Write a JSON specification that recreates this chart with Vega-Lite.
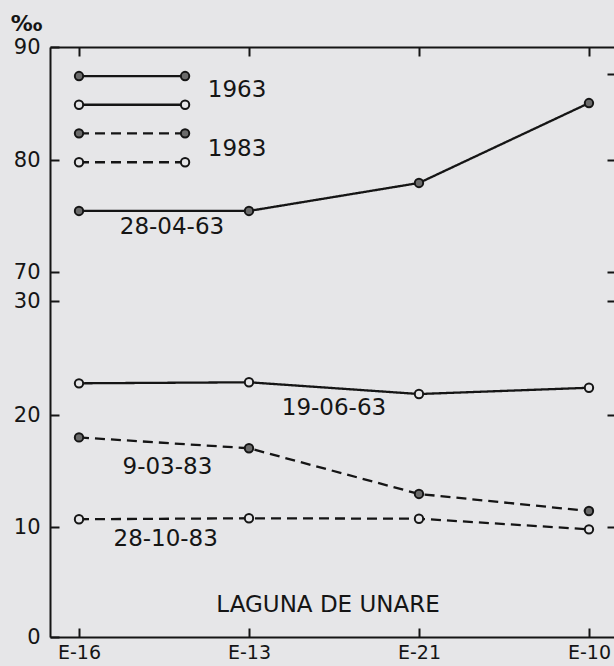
{
  "$schema": "https://vega.github.io/schema/vega-lite/v6.json",
  "width": 566,
  "height": 590,
  "autosize": {"type": "none"},
  "padding": {"left": 50, "top": 47, "right": 0, "bottom": 29},
  "background": "#e6e6e8",
  "config": {
    "view": {"stroke": null},
    "font": "DejaVu Sans",
    "axis": {
      "grid": false,
      "domainColor": "#151515",
      "domainWidth": 2,
      "tickColor": "#151515",
      "tickWidth": 2,
      "labelColor": "#151515",
      "labelFont": "DejaVu Sans",
      "labelFontSize": 21,
      "titleColor": "#151515"
    }
  },
  "datasets": {
    "series": [
      {"series": "28-04-63", "year": "1963", "marker": "filled", "station": "E-16", "pos": 0, "value": 75.45},
      {"series": "28-04-63", "year": "1963", "marker": "filled", "station": "E-13", "pos": 1, "value": 75.45},
      {"series": "28-04-63", "year": "1963", "marker": "filled", "station": "E-21", "pos": 2, "value": 77.95},
      {"series": "28-04-63", "year": "1963", "marker": "filled", "station": "E-10", "pos": 3, "value": 85.04},
      {"series": "19-06-63", "year": "1963", "marker": "open", "station": "E-16", "pos": 0, "value": 22.78},
      {"series": "19-06-63", "year": "1963", "marker": "open", "station": "E-13", "pos": 1, "value": 22.87},
      {"series": "19-06-63", "year": "1963", "marker": "open", "station": "E-21", "pos": 2, "value": 21.84},
      {"series": "19-06-63", "year": "1963", "marker": "open", "station": "E-10", "pos": 3, "value": 22.39},
      {"series": "9-03-83", "year": "1983", "marker": "filled", "station": "E-16", "pos": 0, "value": 18.0},
      {"series": "9-03-83", "year": "1983", "marker": "filled", "station": "E-13", "pos": 1, "value": 17.03},
      {"series": "9-03-83", "year": "1983", "marker": "filled", "station": "E-21", "pos": 2, "value": 12.95},
      {"series": "9-03-83", "year": "1983", "marker": "filled", "station": "E-10", "pos": 3, "value": 11.43},
      {"series": "28-10-83", "year": "1983", "marker": "open", "station": "E-16", "pos": 0, "value": 10.69},
      {"series": "28-10-83", "year": "1983", "marker": "open", "station": "E-13", "pos": 1, "value": 10.78},
      {"series": "28-10-83", "year": "1983", "marker": "open", "station": "E-21", "pos": 2, "value": 10.74},
      {"series": "28-10-83", "year": "1983", "marker": "open", "station": "E-10", "pos": 3, "value": 9.79}
    ],
    "key": [
      {"series": "key1", "year": "1963", "marker": "filled", "pos": 0, "value": 87.43},
      {"series": "key1", "year": "1963", "marker": "filled", "pos": 0.624, "value": 87.43},
      {"series": "key2", "year": "1963", "marker": "open", "pos": 0, "value": 84.89},
      {"series": "key2", "year": "1963", "marker": "open", "pos": 0.624, "value": 84.89},
      {"series": "key3", "year": "1983", "marker": "filled", "pos": 0, "value": 82.36},
      {"series": "key3", "year": "1983", "marker": "filled", "pos": 0.624, "value": 82.36},
      {"series": "key4", "year": "1983", "marker": "open", "pos": 0, "value": 79.8},
      {"series": "key4", "year": "1983", "marker": "open", "pos": 0.624, "value": 79.8}
    ],
    "labels": [
      {"label": "1963", "pos": 0.93, "value": 86.2},
      {"label": "1983", "pos": 0.93, "value": 81.0},
      {"label": "28-04-63", "pos": 0.547, "value": 74.0},
      {"label": "19-06-63", "pos": 1.5, "value": 20.6},
      {"label": "9-03-83", "pos": 0.52, "value": 15.36},
      {"label": "28-10-83", "pos": 0.51, "value": 8.93},
      {"label": "LAGUNA DE UNARE", "pos": 1.465, "value": 2.9}
    ]
  },
  "layer": [
    {
      "data": {"name": "series"},
      "mark": {"type": "line", "color": "#151515", "strokeWidth": 2.3},
      "encoding": {
        "x": {
          "field": "pos", "type": "quantitative",
          "scale": {"domain": [-0.1706, 3.159], "nice": false, "zero": false},
          "axis": {
            "orient": "bottom", "title": null, "values": [0, 1, 2, 3],
            "labelExpr": "['E-16','E-13','E-21','E-10'][datum.value]",
            "tickSize": -9, "labelPadding": 15, "labelFontSize": 19
          }
        },
        "y": {
          "field": "value", "type": "quantitative",
          "scale": {"domain": [0, 10, 20, 30, 70, 80, 90], "range": [590, 480, 368, 254, 225, 113, 0], "nice": false, "zero": false},
          "axis": {
            "orient": "left", "values": [0, 10, 20, 30, 70, 80, 90],
            "tickSize": -9, "labelPadding": 19,
            "title": "‰", "titleAngle": 0, "titleX": -24, "titleY": -24,
            "titleAlign": "center", "titleBaseline": "middle",
            "titleFontSize": 22, "titleFont": "DejaVu Sans", "titleFontWeight": "bold"
          }
        },
        "detail": {"field": "series"},
        "strokeDash": {
          "field": "year", "type": "nominal",
          "scale": {"domain": ["1963", "1983"], "range": [[1, 0], [10, 6]]},
          "legend": null
        }
      }
    },
    {
      "data": {"name": "series"},
      "mark": {"type": "point", "shape": "circle", "size": 70, "stroke": "#151515", "strokeWidth": 2, "opacity": 1, "filled": true},
      "encoding": {
        "x": {"field": "pos", "type": "quantitative", "axis": null},
        "y": {"field": "value", "type": "quantitative", "axis": null},
        "fill": {
          "field": "marker", "type": "nominal",
          "scale": {"domain": ["filled", "open"], "range": ["#6b6b6b", "#e6e6e8"]},
          "legend": null
        }
      }
    },
    {
      "data": {"name": "key"},
      "mark": {"type": "line", "color": "#151515", "strokeWidth": 2.3},
      "encoding": {
        "x": {
          "field": "pos", "type": "quantitative",
          "axis": {"orient": "top", "title": null, "values": [0, 1, 2, 3], "labels": false, "tickSize": -9}
        },
        "y": {
          "field": "value", "type": "quantitative",
          "axis": {"orient": "right", "title": null, "values": [10, 20, 30, 70, 80, 87.6], "labels": false, "tickSize": -9}
        },
        "detail": {"field": "series"},
        "strokeDash": {"field": "year", "type": "nominal", "legend": null}
      }
    },
    {
      "data": {"name": "key"},
      "mark": {"type": "point", "shape": "circle", "size": 70, "stroke": "#151515", "strokeWidth": 2, "opacity": 1, "filled": true},
      "encoding": {
        "x": {"field": "pos", "type": "quantitative", "axis": null},
        "y": {"field": "value", "type": "quantitative", "axis": null},
        "fill": {"field": "marker", "type": "nominal", "legend": null}
      }
    },
    {
      "data": {"name": "labels"},
      "mark": {"type": "text", "font": "DejaVu Sans", "fontSize": 23, "color": "#151515", "align": "center", "baseline": "middle"},
      "encoding": {
        "x": {"field": "pos", "type": "quantitative", "axis": null},
        "y": {"field": "value", "type": "quantitative", "axis": null},
        "text": {"field": "label"}
      }
    }
  ],
  "resolve": {"axis": {"x": "independent", "y": "independent"}}
}
